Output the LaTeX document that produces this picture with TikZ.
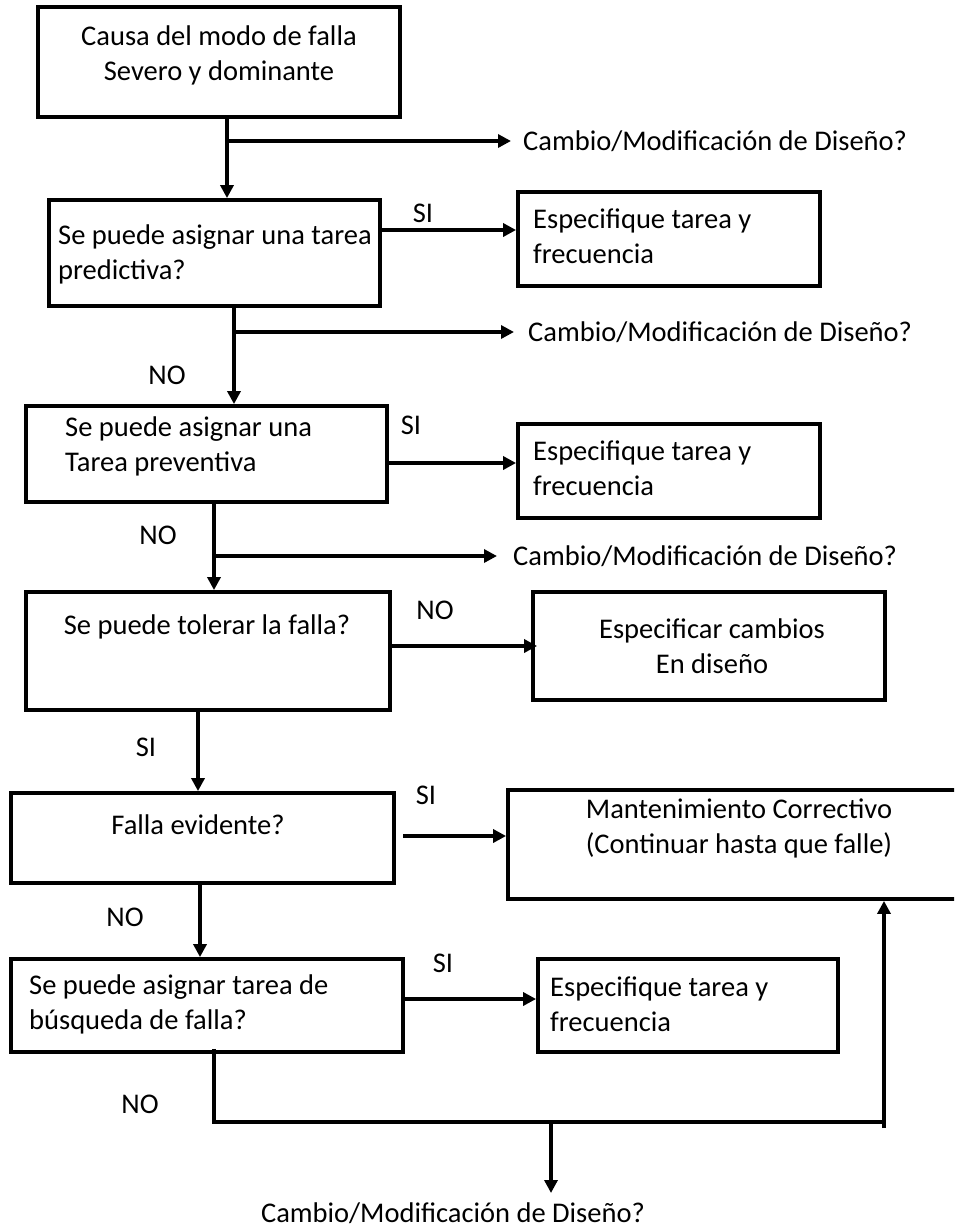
\documentclass[tikz,border=0pt]{standalone}
\usepackage{fontspec}
\setmainfont{Carlito}
\usetikzlibrary{arrows.meta}
\begin{document}
\begin{tikzpicture}[x=1pt,y=-1pt,
  box/.style={draw,line width=3.8pt,rectangle,inner sep=0pt},
  txt/.style={inner sep=0pt,font=\fontsize{28.5}{35}\selectfont},
  lbl/.style={inner sep=0pt,font=\fontsize{28.5}{35}\selectfont},
  conn/.style={line width=4.4pt},
  arr/.style={conn,-{Triangle[length=13pt,width=13pt]}}]
\clip (0,0) rectangle (954,1227);
\useasboundingbox (0,0) rectangle (954,1227);
% boxes
\node[box,minimum width=362pt,minimum height=110pt] (b1) at (219,62) {};
\node[box,minimum width=331pt,minimum height=106pt] (b2) at (214.5,253) {};
\node[box,minimum width=302pt,minimum height=94pt] (s1) at (669,239) {};
\node[box,minimum width=361pt,minimum height=96pt] (b3) at (206.5,454) {};
\node[box,minimum width=302pt,minimum height=94pt] (s2) at (669,471) {};
\node[box,minimum width=364pt,minimum height=118pt] (b4) at (208,651) {};
\node[box,minimum width=352pt,minimum height=108pt] (s3) at (709,646) {};
\node[box,minimum width=383pt,minimum height=90pt] (b5) at (202.5,838) {};
\node[box,minimum width=462pt,minimum height=109pt] (m) at (739,844.5) {};
\node[box,minimum width=392pt,minimum height=93pt] (b6) at (207,1005.5) {};
\node[box,minimum width=300pt,minimum height=93pt] (s4) at (688,1005.5) {};
% texts
\node[txt,align=center] (t1) at (219,55) {Causa del modo de falla\\Severo y dominante};
\node[txt,align=left,anchor=west] (t2) at (58,254.5) {Se puede asignar una tarea\\predictiva?};
\node[txt,align=left,anchor=west] (ts1) at (533,236.5) {Especifique tarea y\\frecuencia};
\node[txt,align=left,anchor=west] (t3) at (65,446) {Se puede asignar una\\Tarea preventiva};
\node[txt,align=left,anchor=west] (ts2) at (533,468.5) {Especifique tarea y\\frecuencia};
\node[txt] (t4) at (207,627) {Se puede tolerar la falla?};
\node[txt,align=center] (ts3) at (712,646) {Especificar cambios\\En diseño};
\node[txt] (t5) at (198,825) {Falla evidente?};
\node[txt,align=center] (tm) at (739,828) {Mantenimiento Correctivo\\(Continuar hasta que falle)};
\node[txt,align=left,anchor=west] (t6) at (29,1004) {Se puede asignar tarea de\\búsqueda de falla?};
\node[txt,align=left,anchor=west] (ts4) at (550,1004.5) {Especifique tarea y\\frecuencia};
% Cambio texts
\node[txt,anchor=west] (c1) at (523,141) {Cambio/Modificación de Diseño?};
\node[txt,anchor=west] (c2) at (528,332) {Cambio/Modificación de Diseño?};
\node[txt,anchor=west] (c3) at (513,556) {Cambio/Modificación de Diseño?};
\node[txt] (c4) at (453,1213) {Cambio/Modificación de Diseño?};
% labels
\node[lbl] (si1) at (423,213) {SI};
\node[lbl] (no1) at (167,375) {NO};
\node[lbl] (si2) at (411,425) {SI};
\node[lbl] (no2) at (158,535) {NO};
\node[lbl] (no3) at (435,610) {NO};
\node[lbl] (si3) at (146,747) {SI};
\node[lbl] (si4) at (426,795) {SI};
\node[lbl] (no4) at (125,917) {NO};
\node[lbl] (si5) at (443,963) {SI};
\node[lbl] (no5) at (140,1104) {NO};
% junction coordinates
\coordinate (j1) at (227,141);
\coordinate (e1) at (511,141);
\coordinate (j2) at (234,332);
\coordinate (e2) at (514,332);
\coordinate (j3) at (214,556);
\coordinate (e3) at (497,556);
\coordinate (j4) at (198,700);
\coordinate (j5) at (200,900);
\coordinate (h1) at (403,836);
\coordinate (r1) at (214,1122);
\coordinate (r2) at (884,1122);
\coordinate (r3) at (884,1128);
\coordinate (d1) at (551,1122);
\coordinate (d2) at (551,1193);
% connectors
\draw[arr] (b1.south -| j1) -- (b2.north -| j1);
\draw[arr] (j1) -- (e1);
\draw[arr] (b2.east |- 0,230) -- (s1.west |- 0,230);
\draw[arr] (b2.south -| j2) -- (b3.north -| j2);
\draw[arr] (j2) -- (e2);
\draw[arr] (b3.east |- 0,463) -- (s2.west |- 0,463);
\draw[arr] (b3.south -| j3) -- (b4.north -| j3);
\draw[arr] (j3) -- (e3);
\draw[arr] (b4.east |- s3.west) -- ([xshift=6pt]s3.west);
\draw[arr] (b4.south -| j4) -- (b5.north -| j4);
\draw[arr] (h1) -- (m.west |- h1);
\draw[arr] (b5.south -| j5) -- (b6.north -| j5);
\draw[arr] (b6.east |- 0,999) -- (s4.west |- 0,999);
\draw[conn] ([yshift=5pt]b6.south -| r1) -- (r1) -- (r2);
\draw[arr] (r3) -- (m.south -| r3);
\draw[arr] (d1) -- (d2);
\end{tikzpicture}
\end{document}
